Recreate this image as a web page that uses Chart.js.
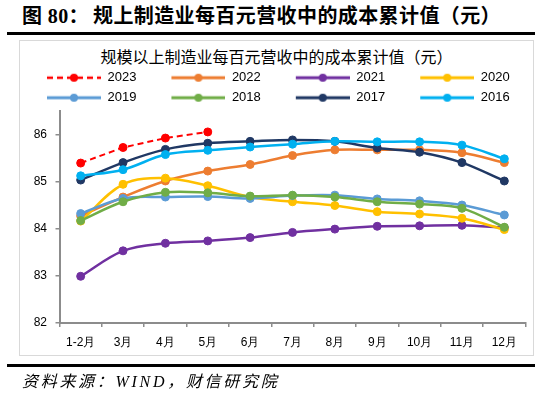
<!DOCTYPE html>
<html>
<head>
<meta charset="utf-8">
<script src="https://cdn.jsdelivr.net/npm/chart.js@4.4.0/dist/chart.umd.min.js"></script>
<style>
body { margin: 0; background: #fff; }
#wrap { position: relative; width: 550px; height: 398px; overflow: hidden; background: #fff; }
#head { position: absolute; left: 22px; top: 5px; font: bold 20px "Liberation Serif", "Noto Sans CJK SC"; letter-spacing: 0.4px; color: #000; white-space: nowrap; line-height: 22px; }
#head span { margin-right: 4px; }
.rule { position: absolute; left: 7px; width: 528px; height: 3px; background: #000; }
#frame { position: absolute; left: 19px; top: 40px; width: 515px; height: 316px; box-sizing: border-box; border: 1px solid #d9d9d9; }
#sub { position: absolute; left: 19px; width: 515px; top: 47px; text-align: center; font: 16px "Noto Sans CJK SC"; line-height: 18px; color: #000; white-space: nowrap; }
#src { position: absolute; left: 22px; top: 372px; font: italic 16px "Liberation Serif", "Noto Sans CJK SC"; letter-spacing: 2.7px; line-height: 20px; color: #000; white-space: nowrap; }
#c { position: absolute; left: 0; top: 0; }
</style>
</head>
<body>
<div id="wrap">
  <div id="head"><span>图 80：</span>规上制造业每百元营收中的成本累计值（元）</div>
  <div class="rule" style="top:32px"></div>
  <div id="frame"></div>
  <div id="sub">规模以上制造业每百元营收中的成本累计值（元）</div>
  <canvas id="c" width="550" height="398"></canvas>
  <div class="rule" style="top:364px"></div>
  <div id="src">资料来源：WIND，财信研究院</div>
</div>
<script>
// categories
var months = ['1-2月', '3月', '4月', '5月', '6月', '7月', '8月', '9月', '10月', '11月', '12月'];
var yTicks = [82, 83, 84, 85, 86];

// values
var v2023 = [85.39, 85.72, 85.92, 86.05, null, null, null, null, null, null, null];
var v2022 = [84.27, 84.67, 85.01, 85.22, 85.36, 85.55, 85.67, 85.67, 85.67, 85.61, 85.40];
var v2021 = [82.99, 83.53, 83.69, 83.74, 83.81, 83.92, 83.99, 84.05, 84.06, 84.07, 84.02];
var v2020 = [84.16, 84.94, 85.07, 84.91, 84.67, 84.57, 84.49, 84.36, 84.31, 84.22, 83.98];
var v2019 = [84.32, 84.64, 84.67, 84.68, 84.64, 84.70, 84.71, 84.63, 84.59, 84.50, 84.29];
var v2018 = [84.17, 84.57, 84.77, 84.76, 84.69, 84.71, 84.67, 84.57, 84.52, 84.43, 84.03];
var v2017 = [85.03, 85.40, 85.68, 85.81, 85.85, 85.88, 85.85, 85.71, 85.62, 85.40, 85.01];
var v2016 = [85.12, 85.25, 85.57, 85.66, 85.73, 85.79, 85.85, 85.84, 85.84, 85.77, 85.48];

var axisColor = '#8c8c8c';

function series(label, data, color, order, dashed) {
  return {
    label: label,
    data: data,
    borderColor: color,
    backgroundColor: color,
    pointBackgroundColor: color,
    pointBorderColor: color,
    borderWidth: dashed ? 2 : 2.5,
    borderDash: dashed ? [6, 4] : [],
    pointRadius: 4,
    pointBorderWidth: 1,
    tension: dashed ? 0 : 0.35,
    fill: false,
    spanGaps: false,
    order: order
  };
}

// little line + dot used as the legend marker
function legendIcon(ds) {
  var cv = document.createElement('canvas');
  cv.width = 82; cv.height = 12;
  var g = cv.getContext('2d');
  g.strokeStyle = ds.borderColor;
  g.lineWidth = ds.borderWidth + 0.5;
  g.setLineDash(ds.borderDash);
  g.beginPath();
  g.moveTo(28, 6); g.lineTo(82, 6);
  g.stroke();
  g.setLineDash([]);
  g.fillStyle = ds.borderColor;
  g.beginPath();
  g.arc(55, 6, 4, 0, Math.PI * 2);
  g.fill();
  return cv;
}

var legendTrim = {
  id: 'legendTrim',
  beforeLayout: function(chart) {
    var lg = chart.legend;
    if (lg && !lg._trimmed) {
      var fit = lg.fit;
      lg.fit = function() { fit.call(this); this.height -= 3.5; };
      lg._trimmed = true;
    }
  }
};

var ctx = document.getElementById('c');
var myChart = new Chart(ctx, {
  type: 'line',
  data: {
    labels: months,
    datasets: [
      series('2023', v2023, '#FF0000', 0, true),
      series('2022', v2022, '#ED7D31', 7),
      series('2021', v2021, '#7030A0', 6),
      series('2020', v2020, '#FFC000', 5),
      series('2019', v2019, '#5B9BD5', 4),
      series('2018', v2018, '#70AD47', 3),
      series('2017', v2017, '#203864', 2),
      series('2016', v2016, '#00B0F0', 1)
    ]
  },
  options: {
    responsive: false,
    animation: false,
    layout: { padding: { top: 64.2, left: 3.1, right: 24.5, bottom: 40.6 } },
    plugins: {
      title: { display: false },
      tooltip: { enabled: false },
      legend: {
        display: true,
        position: 'top',
        labels: {
          usePointStyle: true,
          pointStyleWidth: 82,
          padding: 7,
          color: '#000',
          font: { family: 'Liberation Sans', size: 13 },
          generateLabels: function(chart) {
            return chart.data.datasets.map(function(ds, i) {
              return {
                text: ds.label,
                pointStyle: legendIcon(ds),
                datasetIndex: i,
                hidden: false,
                lineWidth: 0,
                strokeStyle: 'rgba(0,0,0,0)',
                fillStyle: 'rgba(0,0,0,0)',
                fontColor: '#000'
              };
            });
          }
        }
      }
    },
    scales: {
      x: {
        offset: true,
        grid: { display: true, offset: true, drawOnChartArea: false, drawTicks: true, tickLength: 4, color: axisColor, lineWidth: 1.5 },
        border: { display: true, color: axisColor, width: 2 },
        ticks: { autoSkip: false, maxRotation: 0, padding: 8, color: '#000', font: { family: 'Liberation Sans', size: 12 } }
      },
      y: {
        min: 82,
        max: 86.5,
        afterBuildTicks: function(scale) {
          scale.ticks = yTicks.map(function(v) { return { value: v }; });
        },
        afterFit: function(scale) { scale.width = 56.4; },
        grid: { display: true, drawOnChartArea: false, drawTicks: true, tickLength: 4, color: axisColor, lineWidth: 1.5 },
        border: { display: true, color: axisColor, width: 2 },
        ticks: { padding: 8.5, color: '#000', font: { family: 'Liberation Sans', size: 12 } }
      }
    }
  },
  plugins: [legendTrim]
});
</script>
</body>
</html>
